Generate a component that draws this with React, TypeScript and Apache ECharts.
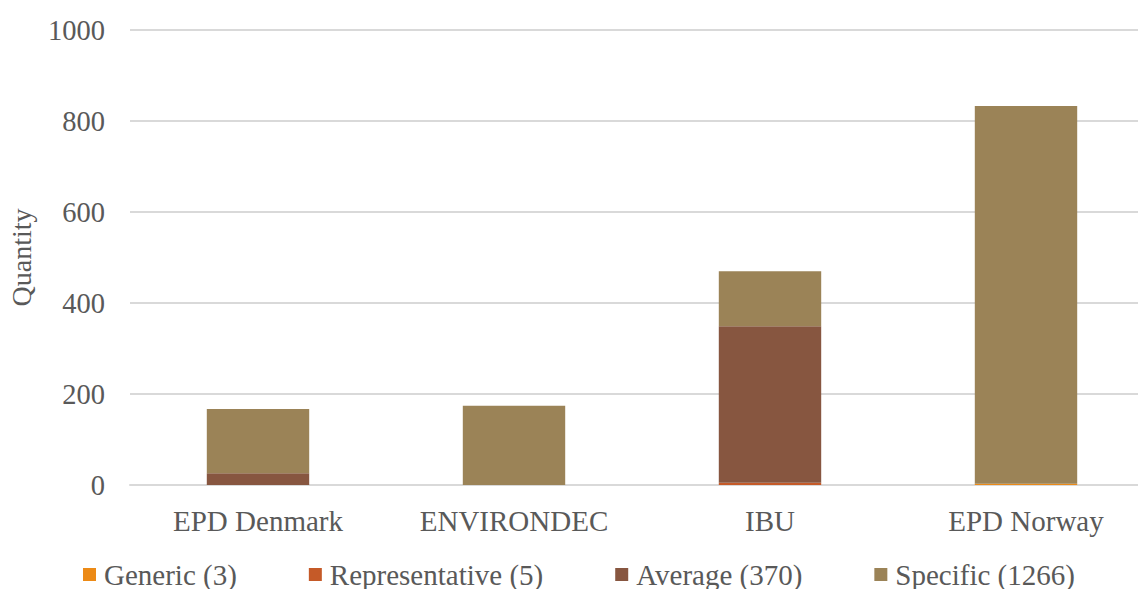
import React, { useEffect, useRef } from "react";
import * as echarts from "echarts";

const categories = ["EPD Denmark", "ENVIRONDEC", "IBU", "EPD Norway"];
const seriesNames = ["Generic (3)", "Representative (5)", "Average (370)", "Specific (1266)"];
const genericValues = [0, 0, 0, 3];
const representativeValues = [0, 0, 5, 0];
const averageValues = [26, 0, 344, 0];
const specificValues = [141, 174, 121, 830];
const colors = ["#EC8A16", "#C55A28", "#875640", "#9B8357"];

const FONT = "'Liberation Serif', 'Times New Roman', serif";
const TEXT = "#595959";

export default function App() {
  const ref = useRef<HTMLDivElement>(null);
  useEffect(() => {
    if (!ref.current) return;
    const chart = echarts.init(ref.current, null, { renderer: "svg" });
    const values = [genericValues, representativeValues, averageValues, specificValues];
    chart.setOption({
      animation: false,
      textStyle: { fontFamily: FONT },
      grid: { left: 130, right: 0, top: 30, bottom: 104, containLabel: false, outerBoundsMode: "none" },
      legend: {
        left: 78,
        top: 555,
        itemWidth: 13,
        itemHeight: 13,
        itemGap: 72,
        icon: "rect",
        textStyle: { fontFamily: FONT, fontSize: 29, color: TEXT, padding: [0, 0, 0, 3] },
        data: seriesNames,
      },
      xAxis: {
        type: "category",
        data: categories,
        axisLine: { lineStyle: { color: "#D9D9D9", width: 2 } },
        axisTick: { show: false },
        axisLabel: { fontFamily: FONT, fontSize: 29, color: TEXT, margin: 21 },
      },
      yAxis: {
        type: "value",
        min: 0,
        max: 1000,
        interval: 200,
        name: "Quantity",
        nameLocation: "middle",
        nameGap: 95,
        nameTextStyle: { fontFamily: FONT, fontSize: 28, color: TEXT },
        axisLine: { show: false },
        axisTick: { show: false },
        splitLine: { lineStyle: { color: "#D9D9D9", width: 2 } },
        axisLabel: { fontFamily: FONT, fontSize: 28.5, color: TEXT, margin: 25, formatter: (v: number) => String(v) },
      },
      series: seriesNames.map((name, i) => ({
        name,
        type: "bar",
        stack: "total",
        barWidth: "40%",
        data: values[i],
        itemStyle: { color: colors[i] },
      })),
    });
    return () => chart.dispose();
  }, []);
  return (
    <div style={{ position: "fixed", left: 0, top: 0, width: 1138, height: 589, overflow: "hidden", background: "#fff" }}>
      <div ref={ref} style={{ width: 1154, height: 589 }} />
    </div>
  );
}
